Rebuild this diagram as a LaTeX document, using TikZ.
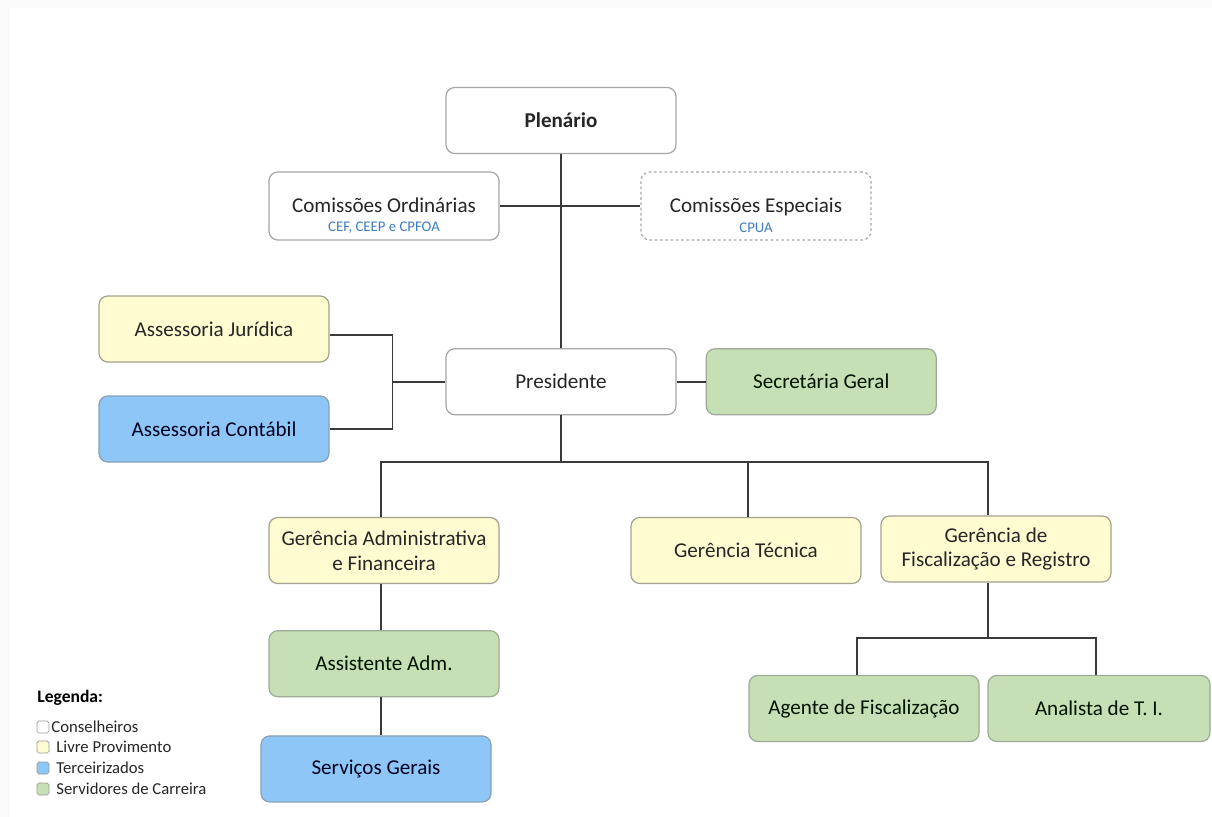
\documentclass[tikz,border=0pt]{standalone}
\usepackage{fontspec}
\setmainfont{Carlito}
\usepackage{xcolor}
\usetikzlibrary{positioning}

\definecolor{cyel}{HTML}{FFFCD2}
\definecolor{cblu}{HTML}{8EC7F7}
\definecolor{cgrn}{HTML}{C6DFB4}
\definecolor{csub}{HTML}{3F7CC0}
\definecolor{cline}{HTML}{3A3A3A}

\newcommand{\subt}[1]{{\fontsize{8.4}{9}\selectfont\color{csub}#1}}

\begin{document}
\begin{tikzpicture}[node distance=1cm and 1cm, text centered]
  % Styles
  \tikzstyle{box}=[rectangle, rounded corners=5pt, draw=black!35, line width=0.7pt, minimum width=4.6cm, minimum height=1.32cm, align=center, font=\fontsize{12}{14}\selectfont, text=black!85]
  \tikzstyle{cons}=[box, fill=white]
  \tikzstyle{livre}=[box, fill=cyel, draw=black!30!cyel!70!gray]
  \tikzstyle{terc}=[box, fill=cblu, draw=cblu!60!black!70, text=black!80!blue!60!black]
  \tikzstyle{serv}=[box, fill=cgrn, draw=cgrn!60!black!70, text=black!80!green!40!black]
  \tikzstyle{link}=[draw=cline, line width=0.9pt]
  \tikzstyle{legsq}=[rectangle, rounded corners=1pt, draw=black!40, minimum size=0.24cm, inner sep=0pt]
  \tikzstyle{legtxt}=[anchor=west, font=\fontsize{9.5}{10}\selectfont, text=black!85, inner sep=1pt]

  % Canvas
  \fill[black!2] (0,0) rectangle (24.24,-16.34);
  \fill[white] (0.2,-0.16) rectangle (24.24,-16.34);
  \useasboundingbox (0,0) rectangle (24.24,-16.34);

  % Conselheiros
  \node[cons] (plen) at (11.22,-2.41) {\textbf{Plenário}};
  \node[cons, minimum height=1.36cm] (comord) at (7.68,-4.12) {\rule{0pt}{19pt}Comissões Ordinárias\\[-3pt]\subt{CEF, CEEP e CPFOA}};
  \node[cons, minimum height=1.36cm, dashed, dash pattern=on 1.5pt off 1.5pt] (comesp) at (15.12,-4.12) {\rule{0pt}{19pt}Comissões Especiais\\[-3pt]\subt{CPUA}};
  \node[cons, below=3.88cm of plen] (pres) {Presidente};

  % Assessorias e secretaria
  \node[livre] (jur) at (4.28,-6.58) {Assessoria Jurídica};
  \node[terc] (cont) at (4.28,-8.58) {Assessoria Contábil};
  \node[serv, right=0.58cm of pres] (sec) {Secretária Geral};

  % Gerencias
  \node[livre] (gadm) at (7.68,-11.01) {Gerência Administrativa\\e Financeira};
  \node[livre] (gtec) at (14.92,-11.01) {Gerência Técnica};
  \node[livre] (gfis) at (19.92,-10.98) {Gerência de\\Fiscalização e Registro};

  % Servidores
  \node[serv, below=0.92cm of gadm] (assist) {Assistente Adm.};
  \node[terc, below=0.76cm of assist, xshift=-0.16cm] (servg) {Serviços Gerais};
  \node[serv] (agente) at (17.28,-14.17) {Agente de Fiscalização};
  \node[serv, minimum width=4.44cm] (anal) at (21.98,-14.17) {Analista de T. I.};

  % Legenda
  \node[anchor=west, font=\bfseries\fontsize{10}{11}\selectfont, inner sep=0pt] (leg) at (0.74,-13.96) {Legenda:};
  \node[legsq, fill=white] (lq1) at (0.86,-14.54) {};
  \node[legsq, fill=cyel] (lq2) at (0.86,-14.94) {};
  \node[legsq, fill=cblu] (lq3) at (0.86,-15.36) {};
  \node[legsq, fill=cgrn] (lq4) at (0.86,-15.78) {};
  \node[legtxt, right=0pt of lq1] (lt1) {Conselheiros};
  \node[legtxt, right=0.1cm of lq2] (lt2) {Livre Provimento};
  \node[legtxt, right=0.1cm of lq3] (lt3) {Terceirizados};
  \node[legtxt, right=0.1cm of lq4] (lt4) {Servidores de Carreira};

  % Ligacoes
  \coordinate (asj) at ([xshift=-1.06cm]pres.west);
  \coordinate (bus) at (11.22,-9.24);
  \coordinate (fbus) at (19.76,-12.76);
  \draw[link] (plen) -- (pres);
  \draw[link] (comord) -- (comesp);
  \draw[link] ([yshift=-0.12cm]jur.east) -| (asj) |- (cont.east);
  \draw[link] (asj) -- (pres.west);
  \draw[link] (pres) -- (sec);
  \draw[link] (pres.south) -- (bus);
  \draw[link] ([xshift=-0.06cm]gadm.north) |- (bus) -| ([xshift=-0.16cm]gfis.north);
  \draw[link] ([xshift=0.04cm]gtec.north) -- ([xshift=0.04cm]gtec.north |- bus);
  \draw[link] ([xshift=-0.06cm]gadm.south) -- ([xshift=-0.06cm]gadm.south |- assist.north);
  \draw[link] ([xshift=-0.06cm]assist.south) -- ([xshift=-0.06cm]assist.south |- servg.north);
  \draw[link] ([xshift=-0.16cm]gfis.south) -- ([xshift=-0.16cm]gfis.south |- fbus);
  \draw[link] ([xshift=-0.14cm]agente.north) |- (fbus) -| ([xshift=-0.06cm]anal.north);
\end{tikzpicture}
\end{document}
